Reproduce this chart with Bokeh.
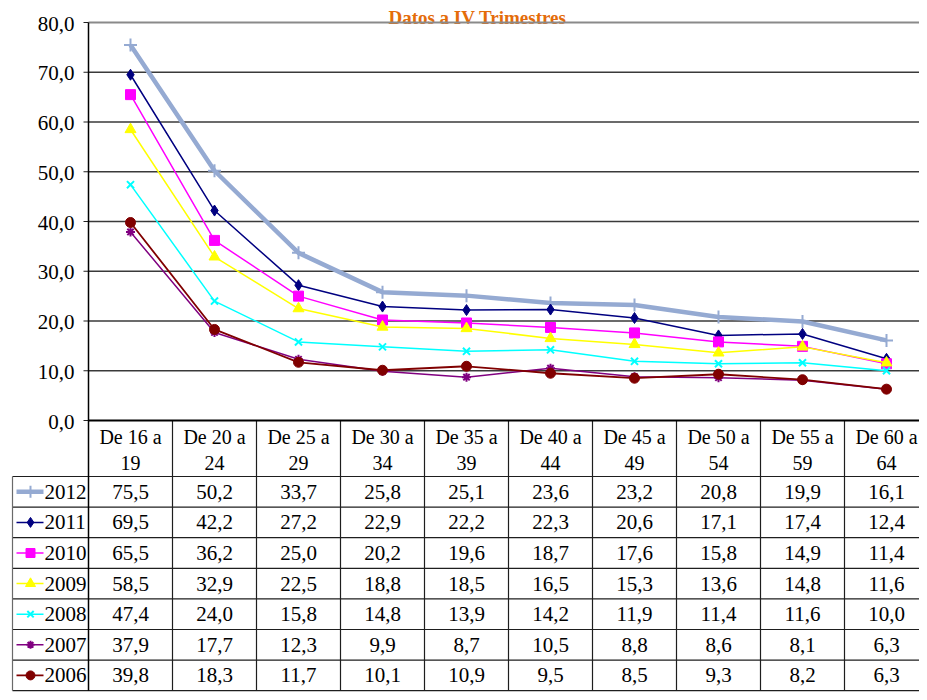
from bokeh.plotting import figure
from bokeh.models import Range1d
from bokeh.core.properties import value
from bokeh.embed import file_html
from bokeh.resources import INLINE

# ---------------- data ----------------
title_text = "Datos a IV Trimestres"
categories = ["De 16 a 19", "De 20 a 24", "De 25 a 29", "De 30 a 34", "De 35 a 39",
              "De 40 a 44", "De 45 a 49", "De 50 a 54", "De 55 a 59", "De 60 a 64"]
years = ["2012", "2011", "2010", "2009", "2008", "2007", "2006"]
v2012 = [75.5, 50.2, 33.7, 25.8, 25.1, 23.6, 23.2, 20.8, 19.9, 16.1]
v2011 = [69.5, 42.2, 27.2, 22.9, 22.2, 22.3, 20.6, 17.1, 17.4, 12.4]
v2010 = [65.5, 36.2, 25.0, 20.2, 19.6, 18.7, 17.6, 15.8, 14.9, 11.4]
v2009 = [58.5, 32.9, 22.5, 18.8, 18.5, 16.5, 15.3, 13.6, 14.8, 11.6]
v2008 = [47.4, 24.0, 15.8, 14.8, 13.9, 14.2, 11.9, 11.4, 11.6, 10.0]
v2007 = [37.9, 17.7, 12.3, 9.9, 8.7, 10.5, 8.8, 8.6, 8.1, 6.3]
v2006 = [39.8, 18.3, 11.7, 10.1, 10.9, 9.5, 8.5, 9.3, 8.2, 6.3]
y_ticks = [0, 10, 20, 30, 40, 50, 60, 70, 80]

series_values = [v2012, v2011, v2010, v2009, v2008, v2007, v2006]

# ---------------- styles ----------------
colors = ["#95AAD2", "#000080", "#FF00FF", "#FFFF00", "#00FFFF", "#800080", "#800000"]
markers = ["cross", "diamond", "square", "triangle", "x", "asterisk", "circle"]
msizes = [13, 11, 10, 11, 10, 9, 10]
lwidths = [4.5, 1.5, 1.5, 1.5, 1.5, 1.5, 1.8]


def F():
    return value("Liberation Serif")


W, H = 919, 692

# pixel geometry (picture coordinates)
AX_X = 88.0          # y-axis position
COL_W = 84.0         # category column width
Y0 = 420.0           # pixel of value 0
PX_PER_UNIT = 4.975  # pixels per unit value
HDR_BOTTOM = 476.0
ROW_H = 30.6
LEFT_X = 12.0

x_start = (0 - AX_X) / COL_W
x_end = (W - AX_X) / COL_W
y_start = (Y0 - H) / PX_PER_UNIT
y_end = (Y0 - 0) / PX_PER_UNIT

p = figure(width=W, height=H, output_backend="svg", toolbar_location=None,
           x_axis_type=None, y_axis_type=None, min_border=0,
           x_range=Range1d(x_start, x_end), y_range=Range1d(y_start, y_end))
p.outline_line_color = None
p.background_fill_color = "white"
p.border_fill_color = "white"
p.xgrid.visible = False
p.ygrid.visible = False
p.extra_x_ranges = {"px": Range1d(0, W)}
p.extra_y_ranges = {"py": Range1d(H, 0)}

n = len(categories)
xs = [i + 0.5 for i in range(n)]

# title
p.text(x=[477], y=[17], text=[title_text], x_range_name="px", y_range_name="py",
       text_font=F(), text_font_size="19px", text_font_style="bold", text_color="#E46C0A",
       text_align="center", text_baseline="alphabetic")

# gridlines
grid_vals = [t for t in y_ticks if t > 0]
p.segment(x0=[0] * len(grid_vals), x1=[n + 1] * len(grid_vals), y0=grid_vals, y1=grid_vals,
          line_color=["#8a8a8a" if t == max(y_ticks) else "#3a3a3a" for t in grid_vals],
          line_width=[2 if t == max(y_ticks) else 1.3 for t in grid_vals])

# y ticks and labels
p.segment(x0=[AX_X - 5] * len(y_ticks), x1=[AX_X] * len(y_ticks), y0=y_ticks, y1=y_ticks,
          x_range_name="px", line_color="#222222", line_width=1.2)
p.text(x=[74] * len(y_ticks), y=y_ticks, text=[f"{t:.1f}".replace(".", ",") for t in y_ticks],
       x_range_name="px", text_font=F(), text_font_size="21px", text_color="black",
       text_align="right", text_baseline="middle", y_offset=1)

# table: horizontal row borders
row_edges = [HDR_BOTTOM + k * ROW_H for k in range(len(years) + 1)]
p.segment(x0=[LEFT_X] * len(row_edges), x1=[W + 20] * len(row_edges), y0=row_edges, y1=row_edges,
          x_range_name="px", y_range_name="py", line_color="#1e1e1e", line_width=1.2)
# column borders
col_edges = list(range(1, n + 1))
p.segment(x0=col_edges, x1=col_edges, y0=[Y0] * len(col_edges), y1=[row_edges[-1]] * len(col_edges),
          y_range_name="py", line_color="#1e1e1e", line_width=1.2)
# left border of row-label column
p.segment(x0=[LEFT_X], x1=[LEFT_X], y0=[HDR_BOTTOM], y1=[row_edges[-1]],
          x_range_name="px", y_range_name="py", line_color="#6a6a6a", line_width=1.2)
# value axis line (continues as table border)
p.segment(x0=[AX_X], x1=[AX_X], y0=[22], y1=[row_edges[-1]],
          x_range_name="px", y_range_name="py", line_color="black", line_width=1.5)
# category axis line at 0
p.segment(x0=[0], x1=[n + 1], y0=[0], y1=[0], line_color="black", line_width=2)

# header texts
line1 = [c.rsplit(" ", 1)[0] for c in categories]
line2 = [c.rsplit(" ", 1)[1] for c in categories]
p.text(x=xs, y=[436] * n, text=line1, y_range_name="py", text_font=F(), text_font_size="20px",
       text_color="black", text_align="center", text_baseline="middle")
p.text(x=xs, y=[462] * n, text=line2, y_range_name="py", text_font=F(), text_font_size="20px",
       text_color="black", text_align="center", text_baseline="middle")

# series lines + markers
for k, (yr, vals) in enumerate(zip(years, series_values)):
    p.line(xs, vals, line_color=colors[k], line_width=lwidths[k])
    p.scatter(xs, vals, marker=markers[k], size=msizes[k], line_color=colors[k],
              fill_color=colors[k], line_width=2 if markers[k] in ("cross", "x", "asterisk") else 1)

# table rows: legend keys, year labels, values
for k, (yr, vals) in enumerate(zip(years, series_values)):
    cy = HDR_BOTTOM + (k + 0.5) * ROW_H
    p.segment(x0=[16], x1=[43], y0=[cy], y1=[cy], x_range_name="px", y_range_name="py",
              line_color=colors[k], line_width=lwidths[k])
    p.scatter([30], [cy], marker=markers[k], size=msizes[k] - 1, line_color=colors[k],
              fill_color=colors[k], x_range_name="px", y_range_name="py",
              line_width=2 if markers[k] in ("cross", "x", "asterisk") else 1)
    p.text(x=[44], y=[cy], text=[yr], x_range_name="px", y_range_name="py", text_font=F(),
           text_font_size="21px", text_color="black", text_align="left", text_baseline="middle")
    p.text(x=xs, y=[cy] * n, text=[f"{v:.1f}".replace(".", ",") for v in vals], y_range_name="py",
           text_font=F(), text_font_size="21px", text_color="black", text_align="center",
           text_baseline="middle")

open("out.html", "w").write(file_html(p, INLINE))
